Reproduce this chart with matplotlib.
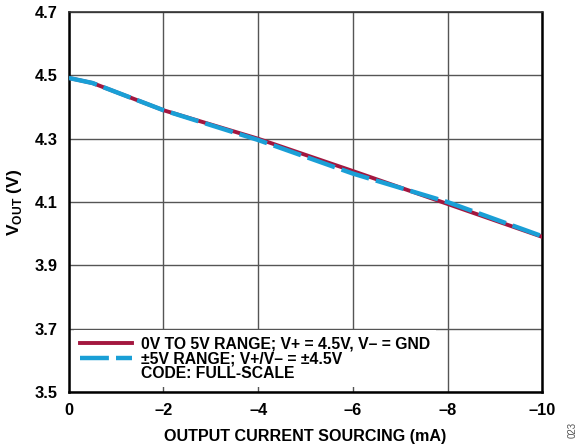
import matplotlib.pyplot as plt

plt.rcParams['font.family'] = ['Liberation Sans', 'DejaVu Sans']
plt.rcParams['font.weight'] = 'bold'
plt.rcParams['mathtext.fontset'] = 'custom'
plt.rcParams['mathtext.rm'] = 'Liberation Sans:bold'
plt.rcParams['mathtext.bf'] = 'Liberation Sans:bold'

# Data
current = [0, -0.5, -2, -4, -6, -8, -10]
vout_unipolar = [4.492, 4.476, 4.39, 4.300, 4.198, 4.094, 3.990]
vout_bipolar = [4.492, 4.476, 4.39, 4.296, 4.190, 4.100, 3.992]

x_ticks = [0, -2, -4, -6, -8, -10]
x_labels = ['0', '–2', '–4', '–6', '–8', '–10']
y_ticks = [3.5, 3.7, 3.9, 4.1, 4.3, 4.5, 4.7]

fig = plt.figure(figsize=(5.83, 4.48), dpi=100)
ax = fig.add_axes([0.118, 0.125, 0.812, 0.848])

ax.plot(current, vout_unipolar, color='#A3173F', lw=2.8, zorder=3,
        label='0V TO 5V RANGE; V+ = 4.5V, V– = GND')
ax.plot(current, vout_bipolar, color='#1A9FD6', lw=3.2, dashes=(6.5, 1.6), zorder=4,
        label='±5V RANGE; V+/V– = ±4.5V')
ax.plot([], [], color='none', label='CODE: FULL-SCALE')

ax.set_xlim(0, -10)
ax.set_ylim(3.5, 4.7)
ax.set_xticks(x_ticks)
ax.set_xticklabels(x_labels)
ax.set_yticks(y_ticks)
ax.grid(True, color='#555555', lw=1.0)
ax.tick_params(length=0, labelsize=11.8, pad=8)
for s in ax.spines.values():
    s.set_linewidth(1.8)
    s.set_color('black')
ax.spines['top'].set_linewidth(1.2)
ax.spines['top'].set_color('#333333')

ax.set_xlabel('OUTPUT CURRENT SOURCING (mA)', fontsize=11.6, fontweight='bold', labelpad=8)
ax.set_ylabel(r'V$_{\mathrm{OUT}}$ (V)', fontsize=12.5, fontweight='bold', labelpad=8)

leg = ax.legend(loc='lower left', bbox_to_anchor=(0.0, 0.0), fontsize=11.3,
                frameon=True, fancybox=False, framealpha=1, edgecolor='none',
                handlelength=3.3, handletextpad=0.6, labelspacing=0.0,
                borderpad=0.4, borderaxespad=0.3)
for t in leg.get_texts():
    t.set_fontweight('bold')

fig.text(0.982, 0.04, '023', rotation=90, fontsize=7, color='#555555',
         fontweight='normal', ha='center', va='center')

fig.savefig('out.png', dpi=100)
